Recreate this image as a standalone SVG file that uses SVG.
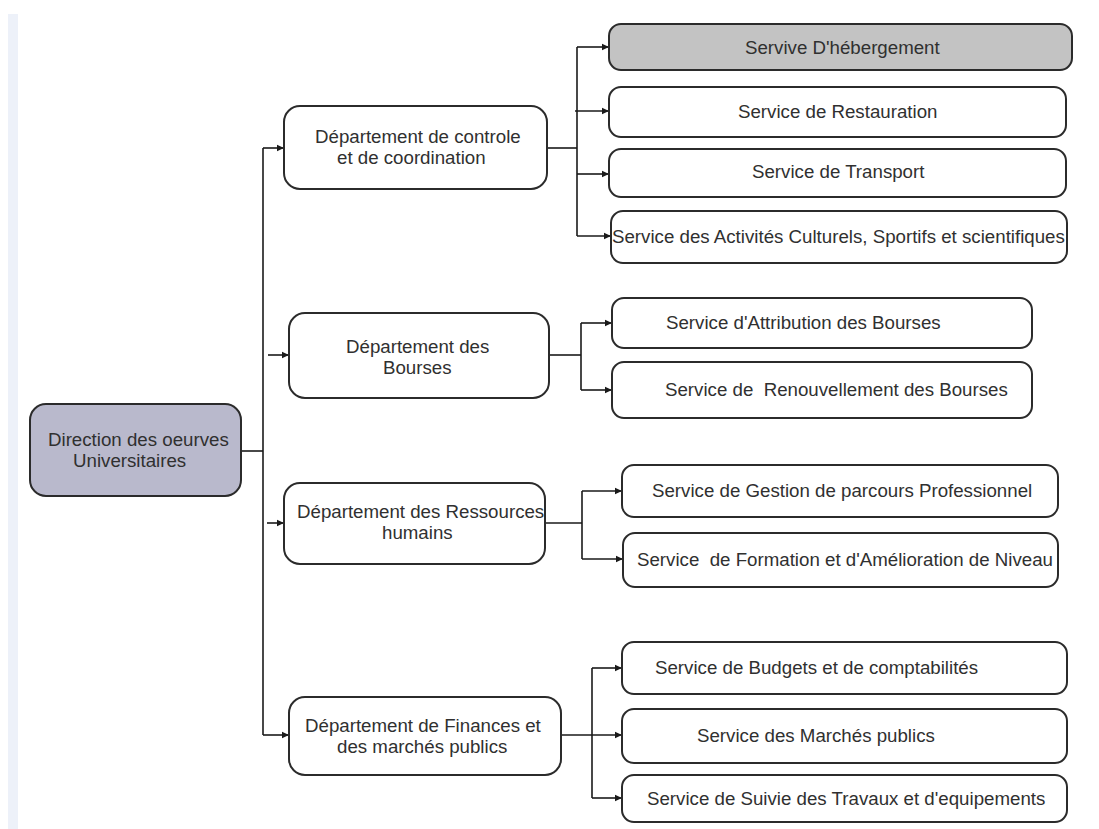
<svg xmlns="http://www.w3.org/2000/svg" width="1099" height="829" viewBox="0 0 1099 829">
  <style>
    .box { fill: #ffffff; stroke: #2b2b2b; stroke-width: 2; }
    .root { fill: #b9b9cc; }
    .hl { fill: #c3c3c3; }
    .lbl { font-family: "Liberation Sans", Arial, sans-serif; font-size: 18.7px; fill: #303030; }
    .pre { white-space: pre; }
    .wire { fill: none; stroke: #1a1a1a; stroke-width: 1.6; }
  </style>
  <defs>
    <marker id="arrow" markerWidth="8" markerHeight="8" refX="7" refY="4" orient="auto" markerUnits="userSpaceOnUse">
      <path d="M0,0.8 L7,4 L0,7.2 Z" fill="#1a1a1a"/>
    </marker>
  </defs>

  <rect width="1099" height="829" fill="#ffffff"/>
  <rect x="8" y="14" width="10" height="815" fill="#edf1f9"/>

  <!-- connectors -->
  <g id="connectors" class="wire">
    <!-- direction to departments -->
    <path d="M241,451 H263"/>
    <path d="M263,148 V735"/>
    <path d="M263,148 H284" marker-end="url(#arrow)"/>
    <path d="M268,355 H289" marker-end="url(#arrow)"/>
    <path d="M267,523 H284" marker-end="url(#arrow)"/>
    <path d="M263,735 H289" marker-end="url(#arrow)"/>

    <!-- controle et coordination -->
    <path d="M547,148 H577"/>
    <path d="M577,47 V236"/>
    <path d="M577,47 H609" marker-end="url(#arrow)"/>
    <path d="M575,111 H609" marker-end="url(#arrow)"/>
    <path d="M577,174 H609" marker-end="url(#arrow)"/>
    <path d="M577,236 H611" marker-end="url(#arrow)"/>

    <!-- bourses -->
    <path d="M549,355 H581"/>
    <path d="M581,323 V390"/>
    <path d="M581,323 H612" marker-end="url(#arrow)"/>
    <path d="M581,390 H612" marker-end="url(#arrow)"/>

    <!-- ressources humains -->
    <path d="M545,523 H582"/>
    <path d="M582,491 V559"/>
    <path d="M582,491 H622" marker-end="url(#arrow)"/>
    <path d="M582,559 H623" marker-end="url(#arrow)"/>

    <!-- finances -->
    <path d="M561,735 H622" marker-end="url(#arrow)"/>
    <path d="M592,668 V798"/>
    <path d="M592,668 H622" marker-end="url(#arrow)"/>
    <path d="M592,798 H622" marker-end="url(#arrow)"/>
  </g>

  <!-- direction -->
  <g id="direction">
    <rect class="box root" x="30" y="404" width="211" height="92" rx="16"/>
    <text class="lbl" x="48" y="446">Direction des oeurves</text>
    <text class="lbl" x="73" y="467">Universitaires</text>
  </g>

  <!-- departments -->
  <g id="dept-controle">
    <rect class="box" x="284" y="106" width="263" height="83" rx="16"/>
    <text class="lbl" x="315" y="143">Département de controle</text>
    <text class="lbl" x="337" y="164">et de coordination</text>
  </g>
  <g id="dept-bourses">
    <rect class="box" x="289" y="313" width="260" height="85" rx="16"/>
    <text class="lbl" x="346" y="353">Département des</text>
    <text class="lbl" x="383" y="374">Bourses</text>
  </g>
  <g id="dept-rh">
    <rect class="box" x="284" y="483" width="261" height="81" rx="16"/>
    <text class="lbl" x="297" y="518">Département des Ressources</text>
    <text class="lbl" x="382" y="539">humains</text>
  </g>
  <g id="dept-finances">
    <rect class="box" x="289" y="697" width="272" height="78" rx="16"/>
    <text class="lbl" x="305" y="732">Département de Finances et</text>
    <text class="lbl" x="337" y="753">des marchés publics</text>
  </g>

  <!-- services: controle et coordination -->
  <g id="svc-hebergement">
    <rect class="box hl" x="609" y="24" width="463" height="46" rx="12"/>
    <text class="lbl" x="745" y="54">Servive D'hébergement</text>
  </g>
  <g id="svc-restauration">
    <rect class="box" x="609" y="87" width="457" height="50" rx="12"/>
    <text class="lbl" x="738" y="118">Service de Restauration</text>
  </g>
  <g id="svc-transport">
    <rect class="box" x="609" y="149" width="457" height="48" rx="12"/>
    <text class="lbl" x="752" y="178">Service de Transport</text>
  </g>
  <g id="svc-activites">
    <rect class="box" x="611" y="211" width="456" height="52" rx="12"/>
    <text class="lbl" x="612" y="243">Service des Activités Culturels, Sportifs et scientifiques</text>
  </g>

  <!-- services: bourses -->
  <g id="svc-attribution">
    <rect class="box" x="612" y="298" width="420" height="50" rx="12"/>
    <text class="lbl" x="666" y="329">Service d'Attribution des Bourses</text>
  </g>
  <g id="svc-renouvellement">
    <rect class="box" x="612" y="362" width="420" height="56" rx="12"/>
    <text class="lbl pre" x="665" y="396">Service de  Renouvellement des Bourses</text>
  </g>

  <!-- services: ressources humains -->
  <g id="svc-parcours">
    <rect class="box" x="622" y="465" width="436" height="52" rx="12"/>
    <text class="lbl" x="652" y="497">Service de Gestion de parcours Professionnel</text>
  </g>
  <g id="svc-formation">
    <rect class="box" x="623" y="533" width="435" height="54" rx="12"/>
    <text class="lbl pre" x="637" y="566">Service  de Formation et d'Amélioration de Niveau</text>
  </g>

  <!-- services: finances -->
  <g id="svc-budgets">
    <rect class="box" x="622" y="642" width="445" height="52" rx="12"/>
    <text class="lbl" x="655" y="674">Service de Budgets et de comptabilités</text>
  </g>
  <g id="svc-marches">
    <rect class="box" x="622" y="709" width="445" height="54" rx="12"/>
    <text class="lbl" x="697" y="742">Service des Marchés publics</text>
  </g>
  <g id="svc-travaux">
    <rect class="box" x="622" y="775" width="445" height="47" rx="12"/>
    <text class="lbl" x="647" y="805">Service de Suivie des Travaux et d'equipements</text>
  </g>
</svg>
